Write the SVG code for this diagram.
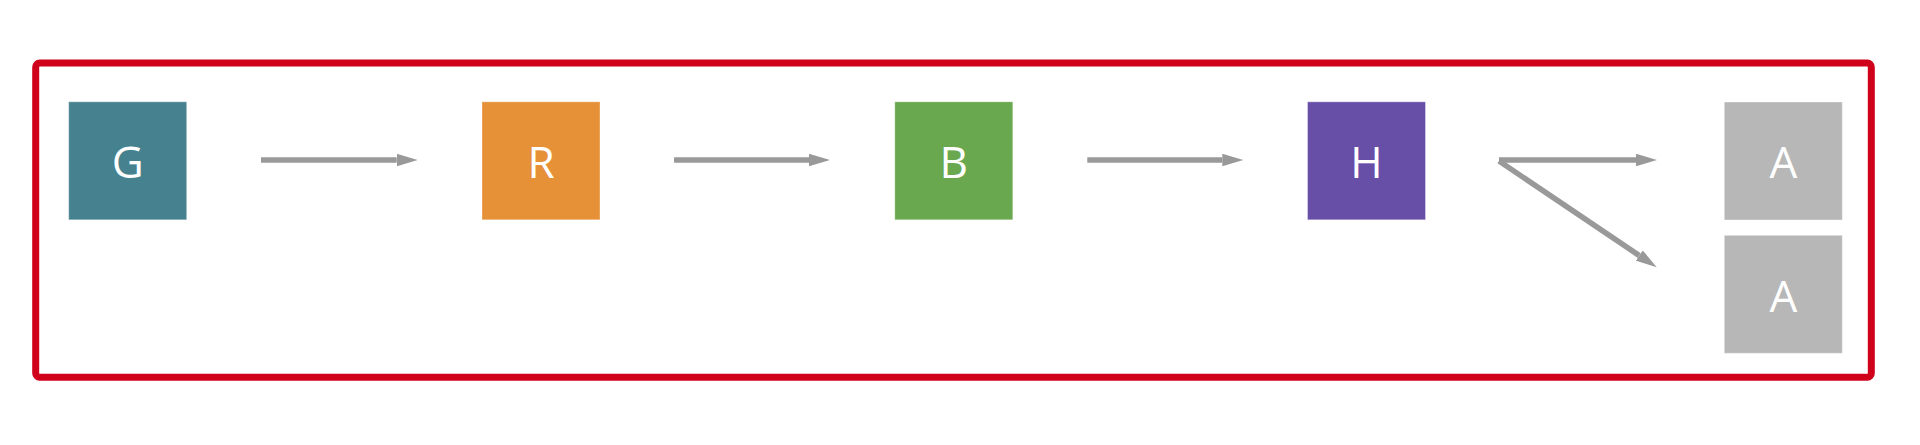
<svg xmlns="http://www.w3.org/2000/svg" width="1920" height="445" viewBox="0 0 1920 445">
<style>
.node rect{stroke:#ffffff;stroke-opacity:0.35;stroke-width:1}
.lbl{font-family:"Open Sans","Noto Sans","Liberation Sans",sans-serif;font-size:44px;font-weight:400;fill:#ffffff;text-anchor:middle}
.conn{stroke:#999999;stroke-width:5.5;fill:none}
</style>
<defs>
<marker id="ah" markerUnits="userSpaceOnUse" markerWidth="22" markerHeight="13" refX="0" refY="6.25" orient="auto" viewBox="0 0 22 13">
<path d="M0,0 L21,6.25 L0,12.5 z" fill="#999999"/>
</marker>
</defs>
<rect width="1920" height="445" fill="#ffffff"/>
<rect id="frame" x="35.7" y="63" width="1835.6" height="314.3" rx="4" fill="none" stroke="#d0021b" stroke-width="7"/>
<g id="G" class="node"><rect x="68.7" y="101.8" width="118" height="118" fill="#45818e"/><text class="lbl" x="127.7" y="177.5">G</text></g>
<g id="R" class="node"><rect x="482" y="101.8" width="118" height="118" fill="#e69138"/><text class="lbl" x="541" y="177.5">R</text></g>
<g id="B" class="node"><rect x="894.8" y="101.8" width="118" height="118" fill="#6aa84f"/><text class="lbl" x="953.8" y="177.5">B</text></g>
<g id="H" class="node"><rect x="1307.5" y="101.8" width="118" height="118" fill="#674ea7"/><text class="lbl" x="1366.5" y="177.5">H</text></g>
<g id="A1" class="node"><rect x="1724.3" y="102" width="118" height="118" fill="#b7b7b7"/><text class="lbl" x="1783.3" y="178">A</text></g>
<g id="A2" class="node"><rect x="1724.3" y="235.3" width="118" height="118" fill="#b7b7b7"/><text class="lbl" x="1783.3" y="311.8">A</text></g>
<g id="connectors">
<line class="conn" x1="261" y1="160" x2="396.7" y2="160" marker-end="url(#ah)"/>
<line class="conn" x1="674" y1="160" x2="809" y2="160" marker-end="url(#ah)"/>
<line class="conn" x1="1087.3" y1="160" x2="1222.3" y2="160" marker-end="url(#ah)"/>
<line class="conn" x1="1499" y1="160" x2="1636" y2="160" marker-end="url(#ah)"/>
<line class="conn" x1="1499" y1="161" x2="1639.3" y2="255.6" marker-end="url(#ah)"/>
</g>
</svg>
